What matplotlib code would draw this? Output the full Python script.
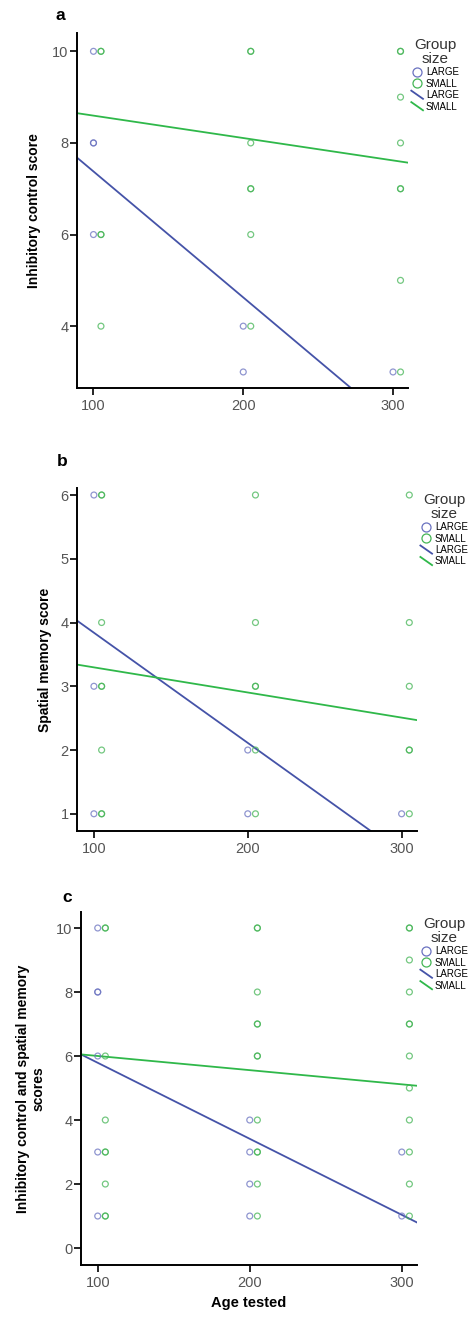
import matplotlib
matplotlib.use("Agg")
import matplotlib.pyplot as plt
from matplotlib.legend_handler import HandlerBase
from matplotlib.lines import Line2D

plt.rcParams["font.family"] = ["Liberation Sans", "DejaVu Sans"]

BLUE_LINE = "#4553a8"
GREEN_LINE = "#2fb84a"
BLUE_PT = "#6a72c0"
GREEN_PT = "#45b556"

# green points are dodged +5 on x in the original; repeats = overlapping points
# Panel a: inhibitory control
a_large_x = [100, 100, 100, 100, 200, 200, 300]
a_large_y = [10, 8, 8, 6, 4, 3, 3]
a_small_x = [105, 105, 105, 105, 105, 205, 205, 205, 205, 205, 205, 205,
             305, 305, 305, 305, 305, 305, 305, 305]
a_small_y = [10, 10, 6, 6, 4, 10, 10, 8, 7, 7, 6, 4,
             10, 10, 9, 8, 7, 7, 5, 3]
a_fit_large = (7.68, -0.0275)   # value at left edge (x=89), slope
a_fit_small = (8.65, -0.00489)

# Panel b: spatial memory
b_large_x = [100, 100, 100, 200, 200, 300]
b_large_y = [6, 3, 1, 2, 1, 1]
b_small_x = [105, 105, 105, 105, 105, 105, 105, 105,
             205, 205, 205, 205, 205, 205,
             305, 305, 305, 305, 305, 305]
b_small_y = [6, 6, 4, 3, 3, 2, 1, 1,
             6, 4, 3, 3, 2, 1,
             6, 4, 3, 2, 2, 1]
b_fit_large = (4.03, -0.01728)
b_fit_small = (3.34, -0.00394)

# Panel c: combined
c_large_x = [100, 100, 100, 100, 100, 100, 200, 200, 200, 200, 300, 300]
c_large_y = [10, 8, 8, 6, 3, 1, 4, 3, 2, 1, 3, 1]
c_small_x = [105, 105, 105, 105, 105, 105, 105, 105, 105,
             205, 205, 205, 205, 205, 205, 205, 205, 205, 205, 205, 205,
             305, 305, 305, 305, 305, 305, 305, 305, 305, 305, 305, 305]
c_small_y = [10, 10, 6, 4, 3, 3, 2, 1, 1,
             10, 10, 8, 7, 7, 6, 6, 4, 3, 3, 2, 1,
             10, 10, 9, 8, 7, 7, 6, 5, 4, 3, 2, 1]
c_fit_large = (6.05, -0.02376)
c_fit_small = (6.05, -0.00443)

X_LO, X_HI = 89, 310


class DiagHandler(HandlerBase):
    def create_artists(self, legend, orig_handle, xdescent, ydescent,
                       width, height, fontsize, trans):
        line = Line2D([-xdescent, width - xdescent],
                      [height * 1.1 - ydescent, -0.1 * height - ydescent])
        line.update_from(orig_handle)
        line.set_transform(trans)
        return [line]


def draw_panel(ax, lx, ly, sx, sy, fit_l, fit_s, ylim, yticks, ylabel):
    ax.scatter(lx, ly, s=18, facecolors="none", edgecolors=BLUE_PT,
               linewidths=0.9, alpha=0.75, zorder=3)
    ax.scatter(sx, sy, s=18, facecolors="none", edgecolors=GREEN_PT,
               linewidths=0.9, alpha=0.75, zorder=3)
    xs = [X_LO, X_HI]
    ax.plot(xs, [fit_l[0], fit_l[0] + fit_l[1] * (X_HI - X_LO)],
            color=BLUE_LINE, lw=1.3, zorder=2)
    ax.plot(xs, [fit_s[0], fit_s[0] + fit_s[1] * (X_HI - X_LO)],
            color=GREEN_LINE, lw=1.3, zorder=2)
    ax.set_xlim(X_LO, X_HI)
    ax.set_ylim(*ylim)
    ax.set_xticks([100, 200, 300])
    ax.set_yticks(yticks)
    for sp in ["top", "right"]:
        ax.spines[sp].set_visible(False)
    for sp in ["left", "bottom"]:
        ax.spines[sp].set_linewidth(1.4)
    ax.tick_params(direction="out", length=5, width=1.2, labelsize=10.5,
                   labelcolor="#555555")
    ax.tick_params(axis="x", pad=3)
    ax.tick_params(axis="y", pad=1)
    ax.set_ylabel(ylabel, fontsize=10, fontweight="bold")

    handles = [
        Line2D([], [], ls="none", marker="o", ms=6.5, mfc="none",
               mec=BLUE_PT, mew=0.9),
        Line2D([], [], ls="none", marker="o", ms=6.5, mfc="none",
               mec=GREEN_PT, mew=0.9),
        Line2D([], [], color=BLUE_LINE, lw=1.3),
        Line2D([], [], color=GREEN_LINE, lw=1.3),
    ]
    leg = ax.legend(handles, ["LARGE", "SMALL", "LARGE", "SMALL"],
                    title="Group\nsize", title_fontsize=11, fontsize=7,
                    frameon=False, loc="upper left",
                    bbox_to_anchor=(1.01, 0.985), borderaxespad=0,
                    borderpad=0, labelspacing=0.15, handlelength=1.2,
                    handletextpad=0.3,
                    handler_map={handles[2]: DiagHandler(),
                                 handles[3]: DiagHandler()})
    title = leg.get_title()
    title.set_color("#333333")
    title.set_multialignment("center")
    title.set_linespacing(0.95)
    return ax


fig = plt.figure(figsize=(4.69, 13.17), dpi=100)

ax_a = fig.add_axes([77 / 469, 1 - 388 / 1317, 331 / 469, 355 / 1317])
draw_panel(ax_a, a_large_x, a_large_y, a_small_x, a_small_y,
           a_fit_large, a_fit_small, (2.65, 10.4), [4, 6, 8, 10],
           "Inhibitory control score")
ax_a.yaxis.set_label_coords(-0.11, 0.5)

ax_b = fig.add_axes([77 / 469, 1 - 831 / 1317, 340 / 469, 343 / 1317])
draw_panel(ax_b, b_large_x, b_large_y, b_small_x, b_small_y,
           b_fit_large, b_fit_small, (0.73, 6.11), [1, 2, 3, 4, 5, 6],
           "Spatial memory score")
ax_b.yaxis.set_label_coords(-0.075, 0.5)

ax_c = fig.add_axes([81 / 469, 1 - 1265 / 1317, 336 / 469, 353 / 1317])
draw_panel(ax_c, c_large_x, c_large_y, c_small_x, c_small_y,
           c_fit_large, c_fit_small, (-0.53, 10.5), [0, 2, 4, 6, 8, 10],
           "Inhibitory control and spatial memory\nscores")
ax_c.yaxis.set_label_coords(-0.105, 0.5)
ax_c.set_xlabel("Age tested", fontsize=10.5, fontweight="bold", labelpad=4)

for lab, x, y in [("a", 60, 15), ("b", 62, 462), ("c", 67, 897)]:
    fig.text(x / 469, 1 - y / 1317, lab, fontsize=12.5, fontweight="bold",
             ha="center", va="center")

fig.savefig("out.png", dpi=100)
